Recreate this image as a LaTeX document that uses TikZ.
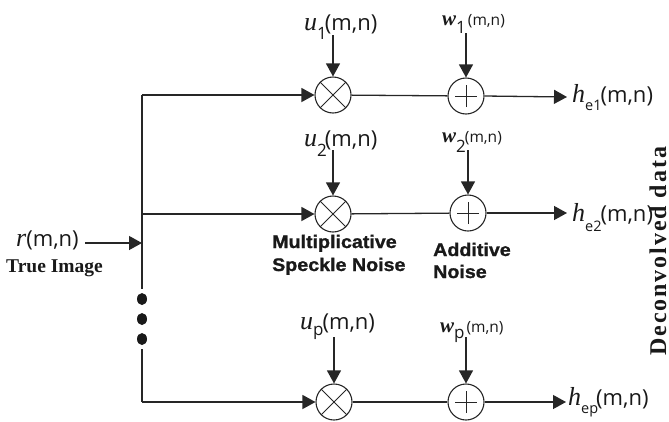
\documentclass[tikz,border=0pt]{standalone}
\usepackage{fontspec}
\setmainfont{Open Sans}
\newfontfamily\serifit{Liberation Serif}[ItalicFont=* Italic,BoldFont=* Bold,BoldItalicFont=* Bold Italic]
\newfontfamily\boldsans{Liberation Sans}[BoldFont=* Bold,BoldFeatures={FakeStretch=1.08,FakeBold=1.2}]
\newfontfamily\spacedserif{Liberation Serif}[BoldFont=* Bold,LetterSpace=8]
\usetikzlibrary{arrows.meta,shapes.geometric}
\newcommand{\ivar}[1]{{\serifit\itshape\fontsize{26}{26}\selectfont #1}}
\newcommand{\wvar}[1]{{\serifit\bfseries\itshape\fontsize{21}{21}\selectfont #1}}
\newcommand{\subs}[2]{\raisebox{#2}{\fontsize{17}{17}\selectfont #1}}
\newcommand{\subh}[2]{\raisebox{#2}{\fontsize{14.5}{14.5}\selectfont #1}}
\newcommand{\argbig}{\fontsize{22}{22}\selectfont(m,n)}
\newcommand{\argsmall}{\fontsize{15.5}{15.5}\selectfont(m,n)}
\tikzset{
  x=1pt,y=-1pt,
  line/.style={draw=black!85,line width=1.3pt},
  flow/.style={line,-{Triangle[length=13pt,width=14pt]},shorten >=0pt},
  feed/.style={flow,line width=1.1pt},
  mixer/.style={circle,draw=black!85,line width=1.1pt,minimum size=36pt,inner sep=0pt},
  lab/.style={anchor=base west,inner sep=0pt,text=black!90},
  note/.style={anchor=base west,inner sep=0pt,font=\boldsans\bfseries\fontsize{18.2}{18.2}\selectfont,text=black!90},
  serifnote/.style={inner sep=0pt,font=\serifit\bfseries\fontsize{19.5}{19.5}\selectfont,text=black!90},
  vdot/.style={ellipse,fill=black!90,minimum width=10pt,minimum height=12pt,inner sep=0pt}
}
\begin{document}
\begin{tikzpicture}
\useasboundingbox (0,0) rectangle (669,421);
% mixers
\node[mixer] (m1) at (333,95) {};
\node[mixer] (a1) at (466,96) {};
\node[mixer] (m2) at (333,214) {};
\node[mixer] (a2) at (468,213) {};
\node[mixer] (m3) at (334,402) {};
\node[mixer] (a3) at (466,402) {};
\draw[line,line width=1pt] (m1.north west)--(m1.south east) (m1.north east)--(m1.south west);
\draw[line,line width=1pt] (m2.north west)--(m2.south east) (m2.north east)--(m2.south west);
\draw[line,line width=1pt] (m3.north west)--(m3.south east) (m3.north east)--(m3.south west);
\foreach \n in {a1,a2,a3}{
  \draw[line,line width=1pt] ([yshift=-11pt]\n.center)--([yshift=11pt]\n.center) ([xshift=-11pt]\n.center)--([xshift=11pt]\n.center);
}
% text nodes
\node[lab] (u1) at (304,30) {\ivar{u}\subs{1}{-9pt}\kern-2pt\argbig};
\node[lab] (w1) at (442,25) {\wvar{w}\subs{1}{-8pt}\kern2pt\argsmall};
\node[lab] (u2) at (304,146) {\ivar{u}\subs{2}{-10pt}\kern-2pt\argbig};
\node[lab] (w2) at (442,142) {\wvar{w}\subs{2}{-10pt}\kern-1pt\argsmall};
\node[lab] (u3) at (300,329) {\ivar{u}\subs{p}{-6pt}\kern-1pt\argbig};
\node[lab] (w3) at (440,332) {\wvar{w}\subs{p}{-6pt}\kern2pt\argsmall};
\node[lab] (h1) at (572,102) {\ivar{h}\subh{e1}{-8pt}\kern-1pt\argbig};
\node[lab] (h2) at (572,221) {\ivar{h}\subh{e2}{-10pt}\kern-1pt\argbig};
\node[lab] (h3) at (568,405) {\ivar{h}\subh{ep}{-8pt}\kern-2pt\argbig};
\node[lab] (r) at (16,246) {\ivar{r}\argbig};
\node[serifnote,anchor=base west] (ti) at (6,272) {True Image};
\node[note] (mn) at (272,248) {Multiplicative};
\node[note] (sn) at (272,271) {Speckle Noise};
\node[note] (an) at (433,256) {Additive};
\node[note] (nn) at (433,278) {Noise};
\node[serifnote,rotate=90,anchor=base west,font=\spacedserif\bfseries\fontsize{24}{24}\selectfont] (dd) at (666,356) {Deconvolved data};
% bus
\coordinate (j1) at (142,95);
\coordinate (j2) at (142,214);
\coordinate (j3) at (142,243);
\coordinate (j4) at (142,402);
\coordinate (rs) at (85,243);
\node[vdot] (d1) at (142,299) {};
\node[vdot] (d2) at (142,319) {};
\node[vdot] (d3) at (142,339) {};
\draw[line] (j1)--(142,289);
\draw[line] (142,349)--(j4);
\draw[flow] (j1)--(m1.west);
\draw[flow] (j2)--(m2.west);
\draw[flow] (j4)--(m3.west);
\draw[flow] (rs)--(j3);
\draw[line] (m1)--(a1);
\draw[line] (m2)--(a2);
\draw[line] (m3)--(a3);
\coordinate (e1) at (567,97);
\coordinate (e2) at (567,213);
\coordinate (e3) at (566,402);
\draw[flow] (a1.east)--(e1);
\draw[flow] (a2.east)--(e2);
\draw[flow] (a3.east)--(e3);
\coordinate (s1) at (333,35);
\coordinate (s2) at (466,33);
\coordinate (s3) at (333,150);
\coordinate (s4) at (468,150);
\coordinate (s5) at (334,337);
\coordinate (s6) at (466,337);
\draw[feed] (s1)--(m1.north);
\draw[feed] (s2)--(a1.north);
\draw[feed] (s3)--(m2.north);
\draw[feed] (s4)--(a2.north);
\draw[feed] (s5)--(m3.north);
\draw[feed] (s6)--(a3.north);
\end{tikzpicture}
\end{document}
